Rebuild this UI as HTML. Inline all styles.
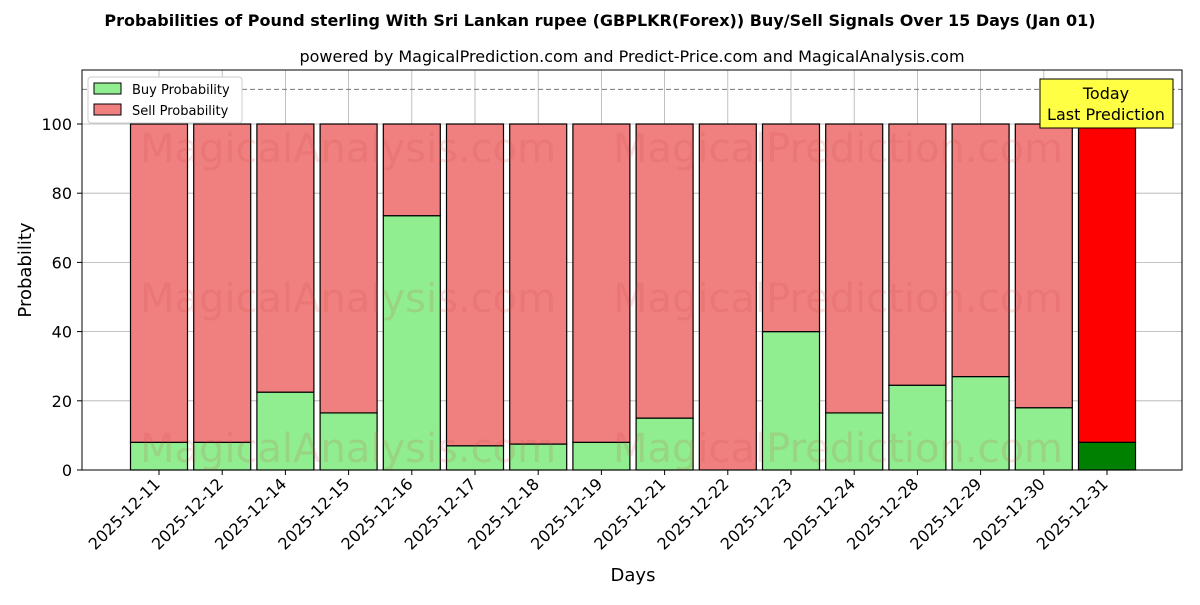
<!DOCTYPE html>
<html><head><meta charset="utf-8"><style>body{margin:0;background:#fff}svg{font-family:"DejaVu Sans","Liberation Sans",sans-serif}</style></head>
<body>
<svg id="c" width="1200" height="600" xmlns="http://www.w3.org/2000/svg">
<rect width="1200" height="600" fill="#fff"/>
<text x="600" y="26" text-anchor="middle" font-size="16" font-weight="bold">Probabilities of Pound sterling With Sri Lankan rupee (GBPLKR(Forex)) Buy/Sell Signals Over 15 Days (Jan 01)</text>
<text x="632" y="62" text-anchor="middle" font-size="16">powered by MagicalPrediction.com and Predict-Price.com and MagicalAnalysis.com</text>
<g id="grid"></g>
<g id="bars"></g>
<g id="wm" fill="#c44" opacity="0.15" font-size="40">
<text x="348" y="162" text-anchor="middle">MagicalAnalysis.com</text>
<text x="838" y="162" text-anchor="middle">MagicalPrediction.com</text>
<text x="348" y="312" text-anchor="middle">MagicalAnalysis.com</text>
<text x="838" y="312" text-anchor="middle">MagicalPrediction.com</text>
<text x="348" y="462" text-anchor="middle">MagicalAnalysis.com</text>
<text x="838" y="462" text-anchor="middle">MagicalPrediction.com</text>
</g>
<line x1="82" x2="1182" y1="89.4" y2="89.4" stroke="#777" stroke-dasharray="5,3"/>
<rect x="82" y="70" width="1100" height="400" fill="none" stroke="#000"/>
<g id="axes" font-size="16"></g>
<text x="633" y="581" text-anchor="middle" font-size="18">Days</text>
<text transform="translate(31,270) rotate(-90)" text-anchor="middle" font-size="18">Probability</text>
<g>
<rect x="88" y="77" width="154" height="46" fill="#fff" stroke="#ccc" rx="3"/>
<rect x="94" y="83" width="27" height="11" fill="#90ee90" stroke="#000"/>
<text x="132" y="94" font-size="13">Buy Probability</text>
<rect x="94" y="104" width="27" height="11" fill="#f08080" stroke="#000"/>
<text x="132" y="115" font-size="13">Sell Probability</text>
</g>
<g>
<rect x="1040" y="79" width="133" height="49" fill="#ffff44" stroke="#000"/>
<text x="1106" y="99" text-anchor="middle" font-size="16">Today</text>
<text x="1106" y="120" text-anchor="middle" font-size="16">Last Prediction</text>
</g>
</svg>
<script>
const categories=["2025-12-11","2025-12-12","2025-12-14","2025-12-15","2025-12-16","2025-12-17","2025-12-18","2025-12-19","2025-12-21","2025-12-22","2025-12-23","2025-12-24","2025-12-28","2025-12-29","2025-12-30","2025-12-31"];
const buyValues=[8,8,22.5,16.5,73.5,7,7.5,8,15,0,40,16.5,24.5,27,18,8];
const sellValues=[92,92,77.5,83.5,26.5,93,92.5,92,85,100,60,83.5,75.5,73,82,92];
const yTicks=[0,20,40,60,80,100];
const NS="http://www.w3.org/2000/svg";
const xS=i=>159+i*63.2;
const yS=v=>470-v*3.46;
const bw=57;
function mk(t,a,p){const e=document.createElementNS(NS,t);for(const k in a)e.setAttribute(k,a[k]);p.appendChild(e);return e;}
const grid=document.getElementById('grid'),bars=document.getElementById('bars'),axes=document.getElementById('axes');
yTicks.forEach(v=>{
 const l=mk('line',{x1:82,x2:1182,y1:yS(v),y2:yS(v),stroke:'#b0b0b0','stroke-width':0.8},grid);
 
 
 mk('line',{x1:77,x2:82,y1:yS(v),y2:yS(v),stroke:'#000'},axes);
 const t=mk('text',{x:72,y:yS(v)+6,'text-anchor':'end'},axes);t.textContent=v;
 
 
});
categories.forEach((c,i)=>{
 const x=xS(i);
 const g=mk('line',{x1:x,x2:x,y1:70,y2:470,stroke:'#b0b0b0','stroke-width':0.8},grid);
 
 
 const last=i===categories.length-1;
 const b=mk('rect',{x:x-bw/2,y:yS(buyValues[i]),width:bw,height:yS(0)-yS(buyValues[i]),fill:last?'#008000':'#90ee90',stroke:'#000','stroke-width':1.2},bars);
 
 
 const s=mk('rect',{x:x-bw/2,y:yS(buyValues[i]+sellValues[i]),width:bw,height:yS(buyValues[i])-yS(buyValues[i]+sellValues[i]),fill:last?'#ff0000':'#f08080',stroke:'#000','stroke-width':1.2},bars);
 
 
 mk('line',{x1:x,x2:x,y1:470,y2:475,stroke:'#000'},axes);
 const t=mk('text',{x:x+2,y:485,'text-anchor':'end',transform:`rotate(-45 ${x+2} 485)`},axes);t.textContent=c;
 
 
});
</script>
</body></html>
